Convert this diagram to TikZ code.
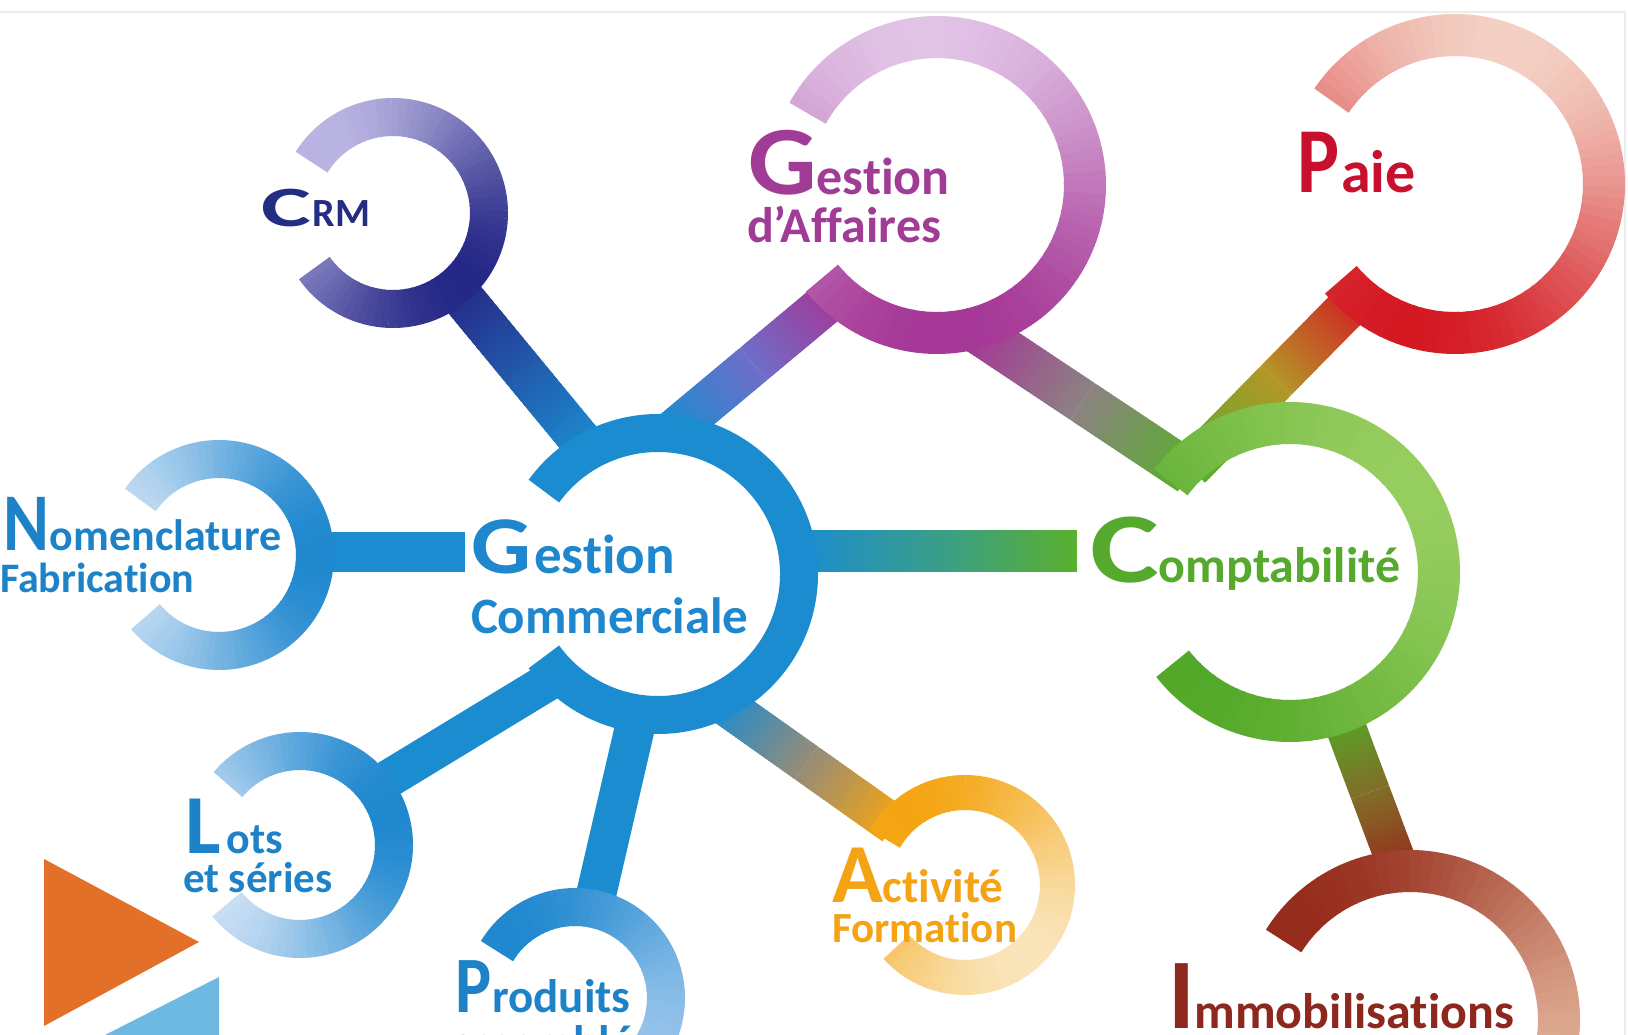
\documentclass[tikz,border=0pt]{standalone}
\usepackage{fontspec}
\setmainfont{Carlito}[RawFeature={-liga;-clig}]
\usepackage{graphicx}
\usetikzlibrary{calc}

\definecolor{gcblue}{RGB}{28,140,208}
\definecolor{gctxt}{RGB}{30,135,205}
\definecolor{bluetxt}{RGB}{30,130,200}
\definecolor{crmtxt}{RGB}{35,45,130}
\definecolor{crmlight}{RGB}{185,180,225}
\definecolor{crmdark}{RGB}{38,40,135}
\definecolor{gatxt}{RGB}{160,60,150}
\definecolor{galight}{RGB}{225,195,230}
\definecolor{gadark}{RGB}{165,55,150}
\definecolor{patxt}{RGB}{200,16,46}
\definecolor{palight}{RGB}{243,208,195}
\definecolor{padark}{RGB}{212,25,35}
\definecolor{cotxt}{RGB}{85,170,45}
\definecolor{colight}{RGB}{150,205,95}
\definecolor{codark}{RGB}{82,168,40}
\definecolor{imtxt}{RGB}{140,40,30}
\definecolor{imlight}{RGB}{228,180,155}
\definecolor{imdark}{RGB}{150,45,28}
\definecolor{actxt}{RGB}{243,163,20}
\definecolor{aclight}{RGB}{250,228,185}
\definecolor{acdark}{RGB}{244,165,18}
\definecolor{prlight}{RGB}{150,195,235}
\definecolor{bluedark}{RGB}{32,136,207}
\definecolor{palelight}{RGB}{205,225,245}
\definecolor{midga}{RGB}{110,110,200}
\definecolor{midgaco}{RGB}{140,130,130}
\definecolor{midpa}{RGB}{180,150,40}
\definecolor{midco}{RGB}{60,160,130}
\definecolor{midim}{RGB}{130,110,40}
\definecolor{midac}{RGB}{150,140,120}
\definecolor{greenbar}{RGB}{90,175,45}
\definecolor{orangetri}{RGB}{227,112,40}
\definecolor{bluetri}{RGB}{110,185,225}

% ring arc with linear colour gradient: centre, mid radius, width, start, end, light dir, light col, dark col
\newcommand\ringarc[8]{%
  \pgfmathsetmacro\rstep{(#4-(#5))/72}%
  \foreach \k in {0,...,71}{%
    \pgfmathsetmacro\aa{#4-\k*\rstep}%
    \pgfmathsetmacro\ab{max(\aa-\rstep-0.5,#5)}%
    \pgfmathtruncatemacro\pp{round(50*(1+cos(\aa-\rstep/2-(#6))))}%
    \draw[line width=#3pt, color=#7!\pp!#8] ($(#1)+(\aa:#2pt)$) arc[start angle=\aa, end angle=\ab, radius=#2pt];%
  }%
}
% straight bar with colour gradient: from, to, width, start colour, end colour
\newcommand\gbar[5]{%
  \foreach \k in {0,...,31}{%
    \pgfmathsetmacro\ta{\k/32}%
    \pgfmathsetmacro\tb{min((\k+1.6)/32,1)}%
    \pgfmathtruncatemacro\pp{round(100*(\k+0.5)/32)}%
    \draw[line width=#3pt, color=#5!\pp!#4] ($(#1)!\ta!(#2)$) -- ($(#1)!\tb!(#2)$);%
  }%
}
\newcommand\fs[1]{\fontsize{#1}{#1}\selectfont}
\newcommand\ini[3]{\scalebox{#2}[1]{\fs{#1}#3}}

\tikzset{lbl/.style={anchor=base west, inner sep=0pt, outer sep=0pt, font=\bfseries}}

\begin{document}
\begin{tikzpicture}[x=1pt,y=1pt]
\useasboundingbox (0,-1035) rectangle (1628,0);
\clip (0,-1035) rectangle (1628,0);
\fill[white] (0,-1035) rectangle (1628,0);
\draw[black!7, line width=1.2pt] (0,-12) -- (1625,-12) -- (1625,-1040);

% ring centres
\coordinate (cGC) at (658,-574);
\coordinate (cCRM) at (393,-213);
\coordinate (cGA) at (937,-185);
\coordinate (cPA) at (1455,-184);
\coordinate (cCO) at (1290,-572);
\coordinate (cIM) at (1410,-1020);
\coordinate (cAC) at (965,-885);
\coordinate (cPR) at (575,-998);
\coordinate (cLO) at (300,-845);
\coordinate (cNO) at (219,-555);

% connector ends
\coordinate (crmA) at (454,-287);   \coordinate (crmB) at (590,-452);
\coordinate (gaA) at (672,-432);    \coordinate (gaB) at (835,-296);
\coordinate (gacoA) at (975,-330);  \coordinate (gacoB) at (1190,-473);
\coordinate (paA) at (1362,-293);   \coordinate (paB) at (1190,-468);
\coordinate (coA) at (800,-551);    \coordinate (coB) at (1077,-551);
\coordinate (imA) at (1340,-712);   \coordinate (imB) at (1400,-872);
\coordinate (acA) at (719,-701);    \coordinate (acB) at (894,-825);
\coordinate (loA) at (556,-677);    \coordinate (loB) at (375,-787);
\coordinate (prA) at (638,-714);    \coordinate (prB) at (593,-908);
\coordinate (noA) at (320,-552);    \coordinate (noB) at (465,-552);

\coordinate (gaM) at ($(gaA)!0.5!(gaB)$);
\coordinate (gacoM) at ($(gacoA)!0.5!(gacoB)$);
\coordinate (paM) at ($(paA)!0.5!(paB)$);
\coordinate (coM) at ($(coA)!0.55!(coB)$);
\coordinate (imM) at ($(imA)!0.5!(imB)$);
\coordinate (acM) at ($(acA)!0.5!(acB)$);

% connectors
\gbar{crmA}{crmB}{42}{crmdark}{gcblue}
\gbar{gaA}{gaM}{42}{gcblue}{midga}
\gbar{gaM}{gaB}{42}{midga}{gadark}
\gbar{gacoA}{gacoM}{44}{gadark}{midgaco}
\gbar{gacoM}{gacoB}{44}{midgaco}{greenbar}
\gbar{paA}{paM}{42}{padark}{midpa}
\gbar{paM}{paB}{42}{midpa}{greenbar}
\gbar{coA}{coM}{42}{gcblue}{midco}
\gbar{coM}{coB}{42}{midco}{greenbar}
\gbar{imA}{imM}{40}{codark}{midim}
\gbar{imM}{imB}{40}{midim}{imdark}
\gbar{acA}{acM}{40}{gcblue}{midac}
\gbar{acM}{acB}{40}{midac}{acdark}
\draw[line width=38pt, gcblue] (loA) -- (loB);
\draw[line width=40pt, gcblue] (prA) -- (prB);
\draw[line width=40pt, gcblue] (noA) -- (noB);

% rings
\draw[line width=38pt, gcblue] ($(cGC)+(144:141pt)$) arc[start angle=144, end angle=-144, radius=141pt];
\ringarc{cCRM}{96}{38}{148}{-145}{135}{crmlight}{crmdark}
\ringarc{cGA}{148}{42}{151}{-141}{95}{galight}{gadark}
\ringarc{cPA}{149}{42}{146}{-140}{70}{palight}{padark}
\ringarc{cCO}{149}{42}{143}{-142}{35}{colight}{codark}
\ringarc{cIM}{149}{42}{148}{-150}{-40}{imlight}{imdark}
\ringarc{cAC}{92.5}{35}{150}{-138}{-50}{aclight}{acdark}
\ringarc{cPR}{91}{38}{149}{-145}{-40}{prlight}{bluedark}
\ringarc{cLO}{94}{38}{140}{-141}{200}{palelight}{bluedark}
\ringarc{cNO}{96}{38}{145}{-140}{180}{palelight}{bluedark}

% labels
\node[lbl, text=gctxt] (tGC1) at (471,-573) {\ini{82}{1.15}{G}\kern3pt\fs{55}estion};
\node[lbl, text=gctxt] (tGC2) at (471,-633) {\fs{51}Commerciale};
\node[lbl, text=crmtxt] (tCRM) at (261,-227) {\ini{57}{1.65}{C}\kern2pt\fs{40}RM};
\node[lbl, text=gatxt] (tGA1) at (748,-195) {\ini{98}{1.1}{G}\fs{52}estion};
\node[lbl, text=gatxt] (tGA2) at (747,-243) {\fs{50}d’Affaires};
\node[lbl, text=patxt] (tPA) at (1297,-193) {\ini{93}{0.85}{P}\kern2pt\fs{60}aie};
\node[lbl, text=cotxt] (tCO) at (1090,-582) {\ini{100}{1.3}{C}\fs{50}omptabilité};
\node[lbl, text=imtxt] (tIM) at (1168,-1028) {\fs{100}I\fs{50}mmobilisations};
\node[lbl, text=actxt] (tAC1) at (832,-902) {\fs{84}A\fs{47}ctivité};
\node[lbl, text=actxt] (tAC2) at (832,-942) {\fs{43}Formation};
\node[lbl, text=bluetxt] (tNO1) at (4,-550) {\ini{82}{0.85}{N}\fs{44}omenclature};
\node[lbl, text=bluetxt] (tNO2) at (0,-592) {\fs{42}Fabrication};
\node[lbl, text=bluetxt] (tLO1) at (185,-853) {\fs{84}L\kern6pt\fs{44}ots};
\node[lbl, text=bluetxt] (tLO2) at (183,-892) {\fs{43}et séries};
\node[lbl, text=bluetxt] (tPR1) at (455,-1012) {\ini{80}{0.85}{P}\kern1pt\fs{47}roduits};
\node[lbl, text=bluetxt] (tPR2) at (451,-1058) {\fs{47}assemblés};

% corner marks
\fill[orangetri] (44,-859) -- (199,-942) -- (44,-1026) -- cycle;
\fill[bluetri] (105,-1035) -- (219,-977) -- (219,-1035) -- cycle;
\end{tikzpicture}
\end{document}
